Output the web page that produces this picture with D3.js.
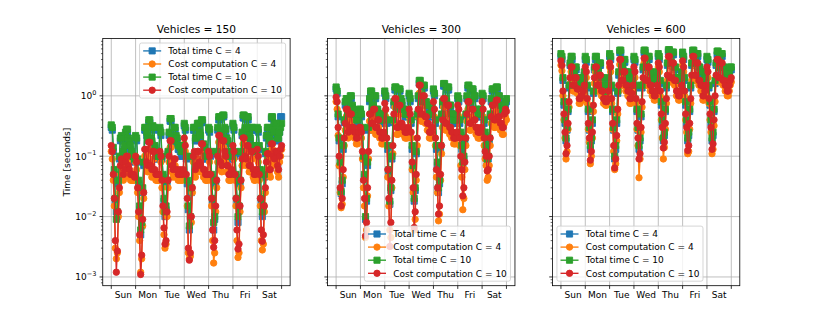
<!DOCTYPE html>
<html>
<head>
<meta charset="utf-8">
<script src="https://cdn.jsdelivr.net/npm/d3@7"></script>
<style>
body{margin:0;background:#fff}
svg{display:block;font-family:"DejaVu Sans",sans-serif}
</style>
</head>
<body>
<svg width="822" height="321"></svg>
<script>
const days = ["Sun","Mon","Tue","Wed","Thu","Fri","Sat"];
const vehicles = [150, 300, 600];
const seriesNames = ["Total time C = 4","Cost computation C = 4","Total time C = 10","Cost computation C = 10"];
// hourly readings, Sun 00:00 .. Sat 24:00
const hours = d3.range(0, 169, 1);

// ---- Vehicles = 150
const total4_150 = [
 .3,.27,.12,.05,.018,.012,.01,.035,.09,.18,.2,.18,.11,.13,.22,.25,.25,.18,.16,.13,.11,.09,.09,.08,
 .2,.18,.08,.035,.013,.005,.007,.025,.07,.27,.27,.22,.18,.36,.36,.18,.16,.3,.27,.14,.11,.09,.09,.11,
 .27,.22,.09,.045,.018,.01,.013,.035,.11,.22,.38,.38,.18,.16,.27,.27,.2,.18,.13,.13,.12,.1,.1,.13,
 .32,.27,.09,.035,.013,.006,.009,.025,.09,.27,.27,.18,.18,.32,.32,.22,.2,.36,.36,.14,.12,.09,.09,.11,
 .27,.25,.1,.045,.018,.006,.009,.035,.11,.27,.4,.4,.22,.2,.45,.45,.27,.25,.18,.16,.11,.09,.09,.11,
 .32,.27,.1,.045,.018,.008,.013,.035,.11,.22,.43,.43,.27,.25,.4,.4,.2,.18,.27,.27,.13,.1,.1,.13,
 .27,.25,.13,.05,.018,.01,.013,.045,.11,.2,.27,.27,.18,.16,.42,.42,.25,.22,.32,.32,.18,.18,.25,.45,
 .45];
const cost4_150 = [
 .12,.09,.04,.015,.003,.002,.0025,.01,.025,.05,.07,.06,.04,.045,.06,.08,.08,.055,.045,.04,.04,.04,.04,.04,
 .08,.06,.025,.01,.004,.0012,.002,.007,.02,.1,.1,.06,.055,.13,.13,.055,.045,.09,.09,.045,.04,.04,.04,.04,
 .1,.08,.03,.012,.005,.003,.0035,.01,.03,.08,.14,.14,.055,.045,.07,.07,.045,.045,.04,.04,.045,.04,.04,.045,
 .16,.12,.04,.015,.0025,.002,.0022,.008,.025,.08,.09,.045,.055,.09,.09,.06,.055,.12,.12,.045,.045,.04,.04,.04,
 .1,.08,.04,.015,.004,.0017,.0025,.012,.03,.08,.17,.17,.06,.055,.14,.14,.09,.08,.055,.055,.04,.04,.04,.045,
 .12,.09,.04,.015,.004,.0021,.0025,.012,.03,.07,.16,.16,.08,.07,.12,.12,.055,.055,.09,.09,.045,.04,.04,.045,
 .1,.08,.04,.015,.004,.0028,.0035,.012,.025,.06,.09,.09,.05,.045,.13,.13,.08,.07,.09,.09,.055,.045,.08,.1,
 .13];
const total10_150 = [
 .33,.3,.14,.06,.02,.009,.012,.04,.1,.2,.22,.2,.12,.15,.25,.28,.28,.2,.18,.15,.12,.1,.1,.09,
 .22,.2,.09,.04,.015,.006,.008,.03,.08,.3,.3,.25,.2,.4,.4,.2,.18,.32,.3,.15,.12,.1,.1,.12,
 .3,.25,.1,.05,.02,.012,.015,.04,.12,.25,.42,.42,.2,.18,.3,.3,.22,.2,.15,.15,.14,.12,.12,.15,
 .35,.3,.1,.04,.015,.007,.01,.03,.1,.3,.3,.2,.2,.35,.35,.25,.22,.4,.4,.16,.14,.1,.1,.12,
 .3,.28,.12,.05,.02,.008,.01,.04,.12,.3,.45,.45,.25,.22,.48,.48,.3,.28,.2,.18,.12,.1,.1,.12,
 .35,.3,.12,.05,.02,.01,.015,.04,.12,.25,.48,.48,.3,.28,.45,.45,.22,.2,.3,.3,.15,.12,.12,.15,
 .3,.28,.15,.06,.02,.012,.015,.05,.12,.22,.3,.3,.2,.18,.45,.45,.28,.25,.35,.35,.2,.2,.25,.3,
 .35];
const cost10_150 = [
 .15,.12,.05,.02,.004,.0012,.0027,.012,.03,.07,.09,.08,.05,.06,.08,.1,.1,.07,.06,.05,.05,.05,.05,.045,
 .1,.08,.03,.012,.005,.0011,.0023,.009,.025,.13,.13,.08,.07,.17,.17,.07,.06,.12,.12,.06,.05,.05,.05,.05,
 .12,.1,.04,.015,.0065,.0035,.004,.012,.04,.1,.18,.18,.07,.06,.09,.09,.06,.06,.05,.05,.06,.05,.05,.06,
 .2,.15,.05,.02,.003,.0019,.0025,.01,.03,.1,.12,.06,.07,.12,.12,.08,.07,.16,.16,.06,.06,.05,.05,.05,
 .12,.1,.05,.02,.006,.0031,.004,.015,.04,.1,.22,.22,.08,.07,.18,.18,.12,.1,.07,.07,.05,.05,.05,.06,
 .15,.12,.05,.02,.006,.0029,.0035,.015,.04,.09,.2,.2,.1,.09,.15,.15,.07,.07,.12,.12,.06,.05,.05,.06,
 .13,.1,.05,.02,.006,.0039,.005,.015,.03,.08,.11,.11,.06,.06,.16,.16,.1,.09,.12,.12,.07,.06,.1,.13,
 .15];

// ---- Vehicles = 300
const total4_300 = [
 1.3,1.1,.45,.18,.07,.024,.035,.13,.36,.7,.8,.8,.45,.55,.9,.9,.65,.55,.45,.45,.35,.35,.45,.55,
 .55,.45,.27,.09,.045,.009,.018,.07,.27,.8,1.1,1.1,.65,.55,.9,.9,.55,.55,.45,.45,.35,.35,.35,.45,
 1.1,.9,.35,.13,.05,.016,.027,.09,.36,.7,1.25,1.25,.65,.55,1.2,1.2,.8,.7,.55,.55,.45,.45,.45,.55,
 1,.8,.35,.13,.06,.018,.027,.11,.45,.9,1.6,1.6,.8,.7,1.35,1.35,.7,.7,.6,.6,.45,.45,.45,.55,
 1.2,1,.35,.13,.07,.025,.035,.13,.45,.7,1.45,1.45,.8,.7,1.25,1.25,.6,.6,.45,.45,.35,.35,.35,.45,
 .9,.8,.35,.22,.13,.07,.09,.18,.45,.9,1.35,1.35,.7,.7,1.2,1.2,.9,.9,.55,.55,.45,.45,.45,.55,
 1,.9,.35,.22,.13,.08,.09,.18,.45,.8,1.2,1.2,.7,.7,1.25,1.25,.9,.9,.6,.6,.55,.55,.6,.7,
 .8];
const cost4_300 = [
 .8,.6,.22,.07,.025,.014,.016,.045,.15,.27,.45,.45,.2,.22,.38,.38,.23,.23,.2,.2,.16,.16,.2,.23,
 .23,.2,.09,.03,.015,.0045,.006,.022,.09,.38,.38,.27,.27,.45,.45,.23,.23,.3,.3,.2,.2,.16,.16,.2,
 .55,.45,.15,.045,.015,.006,.0045,.03,.11,.38,.65,.65,.23,.23,.5,.5,.27,.27,.23,.23,.2,.2,.2,.23,
 .45,.38,.2,.06,.025,.006,.009,.04,.15,.45,1.1,1.1,.38,.38,.75,.75,.35,.35,.27,.27,.2,.2,.2,.23,
 .6,.45,.15,.045,.025,.0085,.011,.04,.11,.3,.65,.65,.27,.27,.5,.5,.23,.23,.2,.2,.16,.16,.16,.2,
 .5,.45,.15,.07,.045,.013,.02,.06,.15,.38,.6,.6,.27,.27,.45,.45,.3,.3,.23,.23,.2,.2,.2,.23,
 .6,.45,.15,.09,.07,.04,.045,.07,.15,.35,.5,.5,.3,.3,.6,.6,.35,.35,.27,.27,.23,.23,.35,.45,
 .4];
const total10_300 = [
 1.4,1.2,.5,.2,.08,.026,.04,.15,.4,.8,.9,.9,.5,.6,1,1,.7,.6,.5,.5,.4,.4,.5,.6,
 .6,.5,.3,.1,.05,.01,.02,.08,.3,.9,1.2,1.2,.7,.6,1,1,.6,.6,.5,.5,.4,.4,.4,.5,
 1.2,1,.4,.15,.06,.018,.03,.1,.4,.8,1.4,1.4,.7,.6,1.3,1.3,.9,.8,.6,.6,.5,.5,.5,.6,
 1.1,.9,.4,.15,.07,.02,.03,.12,.5,1,1.8,1.8,.9,.8,1.5,1.5,.8,.8,.7,.7,.5,.5,.5,.6,
 1.3,1.1,.4,.15,.08,.03,.04,.15,.5,.8,1.6,1.6,.9,.8,1.4,1.4,.7,.7,.5,.5,.4,.4,.4,.5,
 1,.9,.4,.25,.15,.08,.1,.2,.5,1,1.5,1.5,.8,.8,1.3,1.3,1,1,.6,.6,.5,.5,.5,.6,
 1.1,1,.4,.25,.15,.09,.1,.2,.5,.9,1.3,1.3,.8,.8,1.4,1.4,1,1,.7,.7,.6,.6,.7,.8,
 .9];
const cost10_300 = [
 .95,.8,.3,.1,.03,.015,.02,.06,.2,.35,.6,.6,.25,.3,.5,.5,.3,.3,.25,.25,.2,.2,.25,.3,
 .3,.25,.12,.04,.02,.0048,.008,.03,.12,.5,.5,.35,.35,.6,.6,.3,.3,.4,.4,.25,.25,.2,.2,.25,
 .75,.6,.2,.06,.02,.0032,.008,.04,.15,.5,.9,.9,.3,.3,.7,.7,.35,.35,.3,.3,.25,.25,.25,.3,
 .6,.5,.25,.08,.03,.0066,.012,.05,.2,.6,1.5,1.5,.5,.5,1,1,.45,.45,.35,.35,.25,.25,.25,.3,
 .8,.6,.2,.06,.03,.011,.015,.05,.15,.4,.9,.9,.35,.35,.7,.7,.3,.3,.25,.25,.2,.2,.2,.25,
 .7,.6,.2,.1,.06,.022,.03,.08,.2,.5,.8,.8,.35,.35,.6,.6,.4,.4,.3,.3,.25,.25,.25,.3,
 .8,.6,.2,.12,.1,.057,.06,.1,.2,.45,.7,.7,.4,.4,.85,.85,.45,.45,.35,.35,.3,.3,.5,.6,
 .55];

// ---- Vehicles = 600
const total4_600 = [
 4.5,4,1.8,.7,.35,.18,.27,.55,1.35,3.2,4,4,2.2,2.2,2.7,2.7,1.8,1.8,1.35,1.35,1.6,1.6,1.8,2.2,
 4,3.6,1.35,.55,.27,.13,.18,.35,1.1,2.7,4,4,2.2,2.2,3.2,3.2,1.8,1.8,1.35,1.35,1.1,1.1,1.35,1.8,
 4.5,4,1.35,.55,.27,.09,.13,.35,1.1,2.2,5.2,5.2,2.7,2.7,3.6,3.6,2.2,2.2,1.8,1.8,1.35,1.35,1.6,2.2,
 4,3.6,1.35,.55,.27,.13,.18,.45,1.35,2.7,5.2,5.2,2.7,2.7,4,4,2.2,2.2,1.8,1.8,1.6,1.6,1.8,2.2,
 4.5,4,1.6,.7,.35,.18,.22,.55,1.35,3.2,5.4,5.4,3.2,3.2,4.8,4.8,2.7,2.7,1.8,1.8,1.6,1.6,1.8,2.2,
 4.8,4,1.8,.7,.35,.18,.22,.55,1.35,3.2,5.2,5.2,3.2,3.2,4.5,4.5,2.7,2.7,2.2,2.2,1.6,1.6,1.8,2.2,
 4,3.6,1.35,.7,.35,.18,.22,.55,1.6,3.2,4.8,4.8,2.7,2.7,4.5,4.5,2.7,2.7,2.2,2.2,1.8,1.8,2.2,2.7,
 2.7];
const cost4_600 = [
 3.2,2.6,1,.4,.2,.09,.12,.28,.65,1.6,2.5,2.5,1.2,1.2,1.6,1.6,1.1,1.1,.75,.75,.85,.85,1,1.2,
 2.5,2,.75,.28,.17,.075,.1,.2,.55,1.6,2.5,2.5,1.2,1.2,1.8,1.8,1,1,.75,.75,.7,.7,.75,1,
 3,2.5,.75,.28,.12,.06,.075,.18,.5,1.2,3.3,3.3,1.5,1.5,2.1,2.1,1.2,1.2,1,1,.75,.75,.9,1.2,
 2.5,2,.75,.28,.15,.044,.09,.25,.65,1.6,3.5,3.5,1.5,1.5,2.5,2.5,1.2,1.2,1,1,.85,.85,1,1.2,
 3,2.5,1,.4,.2,.09,.14,.28,.75,1.8,3.8,3.8,1.7,1.7,3,3,1.5,1.5,1,1,.85,.85,1,1.2,
 3.2,2.5,1,.4,.25,.11,.12,.28,.75,1.8,3.8,3.8,1.8,1.8,3,3,1.5,1.5,1.2,1.2,.85,.85,1,1.2,
 2.5,2,.75,.4,.25,.11,.13,.32,.8,1.8,3.3,3.3,1.7,1.7,3,3,1.5,1.5,1.2,1.2,1,1,1.2,1.5,
 1.7];
const total10_600 = [
 5,4.5,2,.8,.4,.2,.3,.6,1.5,3.5,4.5,4.5,2.5,2.5,3,3,2,2,1.5,1.5,1.8,1.8,2,2.5,
 4.5,4,1.5,.6,.3,.15,.2,.4,1.2,3,4.5,4.5,2.5,2.5,3.5,3.5,2,2,1.5,1.5,1.2,1.2,1.5,2,
 5,4.5,1.5,.6,.3,.1,.15,.4,1.2,2.5,5.7,5.7,3,3,4,4,2.5,2.5,2,2,1.5,1.5,1.8,2.5,
 4.5,4,1.5,.6,.3,.15,.2,.5,1.5,3,5.7,5.7,3,3,4.5,4.5,2.5,2.5,2,2,1.8,1.8,2,2.5,
 5,4.5,1.8,.8,.4,.2,.25,.6,1.5,3.5,5.8,5.8,3.5,3.5,5.3,5.3,3,3,2,2,1.8,1.8,2,2.5,
 5.3,4.5,2,.8,.4,.2,.25,.6,1.5,3.5,5.7,5.7,3.5,3.5,5,5,3,3,2.5,2.5,1.8,1.8,2,2.5,
 4.5,4,1.5,.8,.4,.2,.25,.6,1.8,3.5,5.5,5.5,3,3,5,5,3,3,2.5,2.5,2,2,2.5,3,
 3];
const cost10_600 = [
 3.8,3.2,1.2,.5,.25,.11,.15,.35,.8,2,3,3,1.5,1.5,2,2,1.3,1.3,.9,.9,1,1,1.2,1.5,
 3,2.5,.9,.35,.2,.086,.12,.25,.7,2,3,3,1.5,1.5,2.2,2.2,1.2,1.2,.9,.9,.8,.8,.9,1.2,
 3.5,3,.9,.35,.15,.064,.09,.22,.6,1.5,4,4,1.8,1.8,2.5,2.5,1.5,1.5,1.2,1.2,.9,.9,1.1,1.5,
 3,2.5,.9,.35,.2,.09,.11,.3,.8,2,4.2,4.2,1.8,1.8,3,3,1.5,1.5,1.2,1.2,1,1,1.2,1.5,
 3.5,3,1.2,.5,.3,.137,.17,.35,.9,2.2,4.5,4.5,2,2,3.5,3.5,1.8,1.8,1.2,1.2,1,1,1.2,1.5,
 3.8,3,1.2,.5,.3,.124,.15,.35,.9,2.2,4.5,4.5,2.2,2.2,3.5,3.5,1.8,1.8,1.5,1.5,1,1,1.2,1.5,
 3,2.5,.9,.5,.3,.13,.16,.4,1,2.2,4,4,2,2,3.5,3.5,1.8,1.8,1.5,1.5,1.2,1.2,1.5,1.8,
 2];

const panels = [
  {v: vehicles[0], series: [total4_150, cost4_150, total10_150, cost10_150], loc: "upper right"},
  {v: vehicles[1], series: [total4_300, cost4_300, total10_300, cost10_300], loc: "lower right"},
  {v: vehicles[2], series: [total4_600, cost4_600, total10_600, cost10_600], loc: "lower left"}
];

const colors = ["#1f77b4","#ff7f0e","#2ca02c","#d62728"];
const shapes = [d3.symbolSquare, d3.symbolCircle, d3.symbolSquare, d3.symbolCircle];
const markArea = [38, 32, 38, 32];

const svg = d3.select("svg");
const axL = 102.75, axR = 739.8, axT = 38.5, axB = 285.7;
const pw = (axR - axL) / 3.4, gap = pw * 0.2;
const fs = 9;

// shared log y, matplotlib style 5% margins in log space
const allVals = panels.flatMap(p => p.series.flat());
const lo = Math.log10(d3.min(allVals)), hi = Math.log10(d3.max(allVals));
const pad = (hi - lo) * 0.05;
const y = d3.scaleLog().domain([10 ** (lo - pad), 10 ** (hi + pad)]).range([axB, axT]);

const majorY = [1e-3, 1e-2, 1e-1, 1e0];
const minorY = [];
[-4, -3, -2, -1, 0].forEach(e => { for (let k = 2; k < 10; k++) minorY.push(k * 10 ** e); });
const yd = y.domain();
const minorIn = minorY.filter(v => v >= yd[0] && v <= yd[1]);

const dayEdges = d3.range(0, 169, 24);

panels.forEach((p, i) => {
  const x0 = axL + i * (pw + gap), x1 = x0 + pw;
  const x = d3.scaleLinear().domain([-8.4, 176.4]).range([x0, x1]);
  const g = svg.append("g");

  // grid
  g.selectAll(".gx").data(dayEdges).enter().append("line")
    .attr("x1", d => x(d)).attr("x2", d => x(d)).attr("y1", axT).attr("y2", axB)
    .attr("stroke", "#b0b0b0").attr("stroke-width", 0.8);
  g.selectAll(".gy").data(majorY).enter().append("line")
    .attr("x1", x0).attr("x2", x1).attr("y1", d => y(d)).attr("y2", d => y(d))
    .attr("stroke", "#b0b0b0").attr("stroke-width", 0.8);

  // series
  const line = d3.line().x((d, j) => x(hours[j])).y(d => y(d));
  p.series.forEach((s, k) => {
    const sg = g.append("g");
    sg.append("path").attr("d", line(s)).attr("fill", "none")
      .attr("stroke", colors[k]).attr("stroke-width", 1.35).attr("stroke-linejoin", "round");
    sg.selectAll("path.m").data(s).enter().append("path").attr("class", "m")
      .attr("d", d3.symbol().type(shapes[k]).size(markArea[k]))
      .attr("transform", (d, j) => `translate(${x(hours[j])},${y(d)})`)
      .attr("fill", colors[k]).attr("stroke", colors[k]).attr("stroke-width", 0.9);
  });

  // spines
  g.append("rect").attr("x", x0).attr("y", axT).attr("width", pw).attr("height", axB - axT)
    .attr("fill", "none").attr("stroke", "#000").attr("stroke-width", 0.8);

  // x ticks at day edges, labels at noon
  g.selectAll(".tx").data(dayEdges).enter().append("line")
    .attr("x1", d => x(d)).attr("x2", d => x(d)).attr("y1", axB).attr("y2", axB + 3.2)
    .attr("stroke", "#000").attr("stroke-width", 0.8);
  g.selectAll(".lx").data(days).enter().append("text")
    .attr("x", (d, k) => x(k * 24 + 12)).attr("y", 298)
    .attr("text-anchor", "middle").attr("font-size", fs).attr("fill", "#000").text(d => d);

  // y ticks
  g.selectAll(".ty").data(majorY).enter().append("line")
    .attr("x1", x0 - 3.2).attr("x2", x0).attr("y1", d => y(d)).attr("y2", d => y(d))
    .attr("stroke", "#000").attr("stroke-width", 0.8);
  g.selectAll(".tym").data(minorIn).enter().append("line")
    .attr("x1", x0 - 1.8).attr("x2", x0).attr("y1", d => y(d)).attr("y2", d => y(d))
    .attr("stroke", "#000").attr("stroke-width", 0.6);

  if (i === 0) {
    majorY.forEach(v => {
      const e = Math.round(Math.log10(v));
      const t = g.append("text").attr("x", x0 - 6.4).attr("y", y(v) + 3.3)
        .attr("text-anchor", "end").attr("font-size", fs).attr("fill", "#000");
      t.append("tspan").text("10");
      t.append("tspan").attr("font-size", 6.5).attr("dy", -4.2).text(e === 0 ? "0" : "\u2212" + Math.abs(e));
    });
    svg.append("text").attr("transform", `translate(67,${(axT + axB) / 2}) rotate(-90)`)
      .attr("text-anchor", "middle").attr("dominant-baseline", "central")
      .attr("font-size", fs).text("Time [seconds]");
  }

  // title
  svg.append("text").attr("x", (x0 + x1) / 2).attr("y", 33).attr("text-anchor", "middle")
    .attr("font-size", 10.6).text("Vehicles = " + p.v);

  // legend
  const rowH = 13.1, bp = 3.6, hl = 18, htp = 7.2;
  const lg = g.append("g");
  const texts = seriesNames.map((n, k) => lg.append("text").attr("font-size", fs).text(n));
  const tw = d3.max(texts, t => t.node().getComputedTextLength());
  const lw = bp + hl + htp + tw + bp, lh = 2 * bp + 3 * rowH + 8.6;
  const lx = p.loc.endsWith("right") ? x1 - 4.5 - lw : x0 + 4.5;
  const ly = p.loc.startsWith("upper") ? axT + 4.5 : axB - 4.5 - lh;
  lg.insert("rect", "text").attr("x", lx).attr("y", ly).attr("width", lw).attr("height", lh)
    .attr("rx", 2).attr("fill", "#fff").attr("fill-opacity", 0.8)
    .attr("stroke", "#cccccc").attr("stroke-width", 0.8);
  seriesNames.forEach((n, k) => {
    const cy = ly + bp + 4.3 + k * rowH;
    lg.append("line").attr("x1", lx + bp).attr("x2", lx + bp + hl).attr("y1", cy).attr("y2", cy)
      .attr("stroke", colors[k]).attr("stroke-width", 1.35);
    lg.append("path").attr("d", d3.symbol().type(shapes[k]).size(markArea[k]))
      .attr("transform", `translate(${lx + bp + hl / 2},${cy})`)
      .attr("fill", colors[k]).attr("stroke", colors[k]).attr("stroke-width", 0.9);
    texts[k].attr("x", lx + bp + hl + htp).attr("y", cy + 3.2).attr("fill", "#000").raise();
  });
});
</script>
</body>
</html>
